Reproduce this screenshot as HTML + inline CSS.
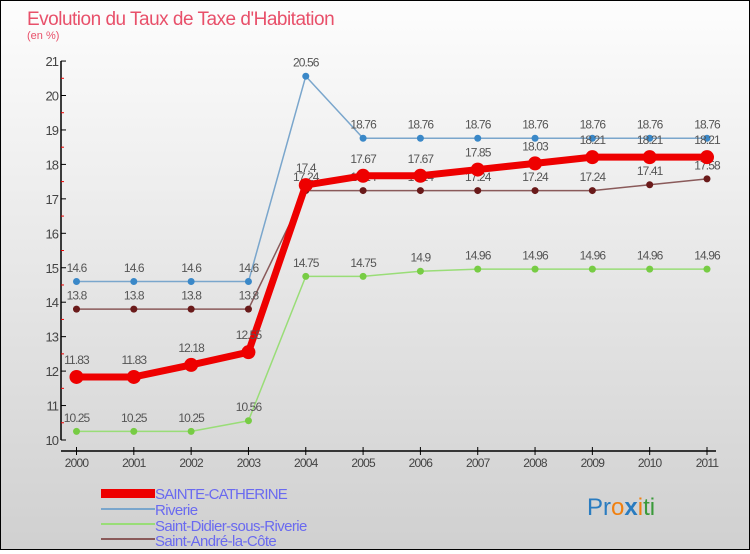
<!DOCTYPE html>
<html><head><meta charset="utf-8"><style>
body{margin:0}
#c{width:748px;height:548px;border:1px solid #000;background:linear-gradient(#fdfdfd,#d0d0d0);position:relative;font-family:"Liberation Sans",sans-serif}
</style></head><body>
<div id="c">
<svg id="s" width="748" height="548" xmlns="http://www.w3.org/2000/svg" font-family="Liberation Sans, sans-serif">
<text x="26" y="24" font-size="19" fill="#e8506a" letter-spacing="-0.5">Evolution du Taux de Taxe d'Habitation</text>
<text x="26" y="38" font-size="11" fill="#e8506a">(en %)</text>
<g id="axes"></g><g id="series"></g>
<g font-size="15" fill="#6a6af0">
<rect x="100" y="488" width="54" height="9" fill="#e00"/>
<text x="154" y="498" letter-spacing="-0.8">SAINTE-CATHERINE</text>
<line x1="100" y1="508" x2="154" y2="508" stroke="#7aa6cc" stroke-width="2"/>
<text x="154" y="514" letter-spacing="-0.6">Riverie</text>
<line x1="100" y1="523" x2="154" y2="523" stroke="#99dd77" stroke-width="2"/>
<text x="154" y="530" letter-spacing="-0.6">Saint-Didier-sous-Riverie</text>
<line x1="100" y1="538" x2="154" y2="538" stroke="#8a5a5a" stroke-width="2"/>
<text x="154" y="545" letter-spacing="-0.6">Saint-André-la-Côte</text>
</g>
<text x="586" y="514" font-size="24"><tspan fill="#2a7cc0">Pr</tspan><tspan fill="#f08010">o</tspan><tspan fill="#2a7cc0" font-weight="bold">x</tspan><tspan fill="#f08010">i</tspan><tspan fill="#3a9a3a">ti</tspan></text>
</svg></div>
<script>
const years=[2000,2001,2002,2003,2004,2005,2006,2007,2008,2009,2010,2011];
const yTicks=[10,11,12,13,14,15,16,17,18,19,20,21];
const sainteCatherine=[11.83,11.83,12.18,12.55,17.4,17.67,17.67,17.85,18.03,18.21,18.21,18.21];
const riverie=[14.6,14.6,14.6,14.6,20.56,18.76,18.76,18.76,18.76,18.76,18.76,18.76];
const saintDidier=[10.25,10.25,10.25,10.56,14.75,14.75,14.9,14.96,14.96,14.96,14.96,14.96];
const saintAndre=[13.8,13.8,13.8,13.8,17.24,17.24,17.24,17.24,17.24,17.24,17.41,17.58];
const NS="http://www.w3.org/2000/svg";
const X=i=>75.5+i*(706-75.5)/11;
const Y=v=>439-(v-10)*34.45;
function mk(t,a,p){const e=document.createElementNS(NS,t);for(const k in a)e.setAttribute(k,a[k]);p.appendChild(e);return e;}
const ax=document.getElementById('axes');
const yl=mk('line',{x1:60,y1:Y(21),x2:60,y2:Y(10),stroke:'#000','stroke-width':1.5},ax);


const xl=mk('line',{x1:60,y1:450,x2:715,y2:450,stroke:'#000','stroke-width':1.5},ax);


yTicks.forEach(v=>{
 mk('line',{x1:60,y1:Y(v),x2:65,y2:Y(v),stroke:'#000'},ax);
 if(v<21)mk('line',{x1:60,y1:Y(v+0.5),x2:63,y2:Y(v+0.5),stroke:'#e00'},ax);
 const t=mk('text',{x:57,y:Y(v)+5,'font-size':13,'text-anchor':'end',fill:'#444','letter-spacing':-1},ax);
 t.textContent=v;
 
 
});
years.forEach((y,i)=>{
 mk('line',{x1:X(i),y1:446,x2:X(i),y2:454,stroke:'#000'},ax);
 const t=mk('text',{x:X(i),y:466,'font-size':12,'text-anchor':'middle',fill:'#444','letter-spacing':-0.8},ax);
 t.textContent=y;
 
 
});
const sg=document.getElementById('series');
function draw(data,color,dot,w,r,name){
 const g=mk('g',{},sg);
 
 
 mk('polyline',{points:data.map((v,i)=>X(i)+','+Y(v)).join(' '),fill:'none',stroke:color,'stroke-width':w,'stroke-linejoin':'round'},g);
 data.forEach((v,i)=>{
  const c=mk('circle',{cx:X(i),cy:Y(v),r:r,fill:dot},g);
  
  
  const t=mk('text',{x:X(i),y:Y(v)-(r+6),'font-size':12,'text-anchor':'middle',fill:'#555','letter-spacing':-0.9},g);
  t.textContent=v;
  
  
 });
}
draw(saintDidier,'#99dd77','#77cc44',1.5,3.5,'series-saint-didier');
draw(saintAndre,'#8a5a5a','#6a1a1a',1.5,3.5,'series-saint-andre');
draw(riverie,'#7aa6cc','#3a88c8',1.5,3.5,'series-riverie');
draw(sainteCatherine,'#ee0000','#ee0000',7,7,'series-sainte-catherine');
</script>
</body></html>
